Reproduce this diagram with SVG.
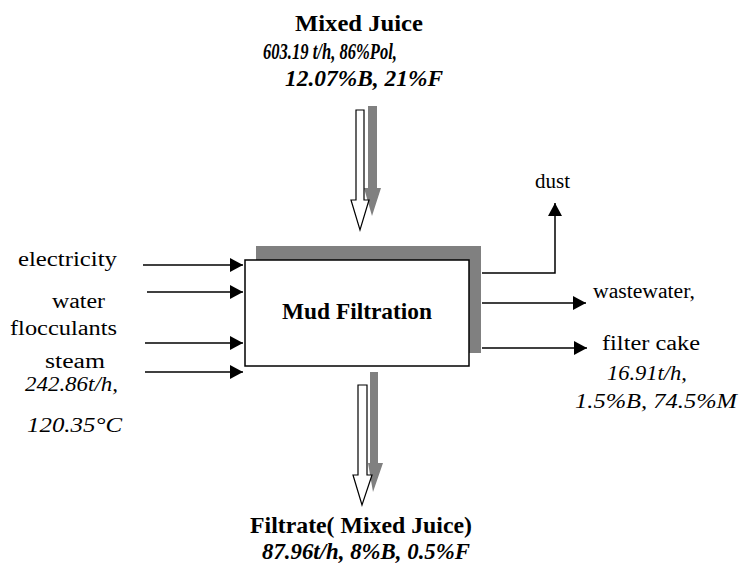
<svg xmlns="http://www.w3.org/2000/svg" width="740" height="568" viewBox="0 0 740 568">
<defs>
<style>
text{font-family:"Liberation Serif","Times New Roman",serif;fill:#000}
.r{font-size:20px}
.i{font-size:20px;font-style:italic}
.b{font-size:23px;font-weight:bold}
.bi{font-size:23px;font-weight:bold;font-style:italic}
.ln{stroke:#000;stroke-width:1.5;fill:none}
.sh{fill:#808080}
.ha{fill:#fff;stroke:#000;stroke-width:1.2}
</style>
<marker id="ah" markerUnits="userSpaceOnUse" markerWidth="14" markerHeight="14" refX="13" refY="7" orient="auto">
<path d="M0,0 L13,7 L0,14 z" fill="#000"/>
</marker>
</defs>
<g id="connectors">
<line class="ln" x1="143" y1="265" x2="243" y2="265" marker-end="url(#ah)"/>
<line class="ln" x1="147" y1="292" x2="243" y2="292" marker-end="url(#ah)"/>
<line class="ln" x1="145" y1="343" x2="243" y2="343" marker-end="url(#ah)"/>
<line class="ln" x1="145" y1="372" x2="243" y2="372" marker-end="url(#ah)"/>
<polyline class="ln" points="482,273 555,273 555,203" marker-end="url(#ah)"/>
<line class="ln" x1="482" y1="303" x2="586" y2="303" marker-end="url(#ah)"/>
<line class="ln" x1="482" y1="348" x2="587" y2="348" marker-end="url(#ah)"/>
<g id="in-arrow">
<path class="sh" d="M368,106 H377 V188 H381 L372,216 L364,188 H368 Z"/>
<path class="ha" d="M356,110 H364 V200 H369 L360,230 L351,200 H356 Z"/>
</g>
<g id="out-arrow">
<path class="sh" d="M370,372 H378 V463 H383 L373,492 L368,463 H370 Z"/>
<path class="ha" d="M358,385 H367 V475 H372 L362,505 L353,475 H358 Z"/>
</g>
</g>
<g id="mud-filtration">
<rect class="sh" x="256" y="246" width="225" height="107"/>
<rect x="245" y="260" width="224" height="106" fill="#fff" stroke="#000" stroke-width="1.5"/>
<text class="b" x="282" y="319" textLength="150" lengthAdjust="spacingAndGlyphs">Mud Filtration</text>
</g>
<g id="mixed-juice">
<text class="b" x="295" y="31" textLength="128" lengthAdjust="spacingAndGlyphs">Mixed Juice</text>
<text class="bi" x="263" y="59" textLength="134" lengthAdjust="spacingAndGlyphs">603.19 t/h, 86%Pol,</text>
<text class="bi" x="285" y="86" textLength="158" lengthAdjust="spacingAndGlyphs">12.07%B,  21%F</text>
</g>
<g id="inputs">
<text class="r" x="18" y="266" textLength="99" lengthAdjust="spacingAndGlyphs">electricity</text>
<text class="r" x="52" y="308" textLength="53" lengthAdjust="spacingAndGlyphs">water</text>
<text class="r" x="10" y="335" textLength="107" lengthAdjust="spacingAndGlyphs">flocculants</text>
<text class="r" x="45" y="368" textLength="60" lengthAdjust="spacingAndGlyphs">steam</text>
<text class="i" x="25" y="391" textLength="93" lengthAdjust="spacingAndGlyphs">242.86t/h,</text>
<text class="i" x="27" y="432" textLength="95" lengthAdjust="spacingAndGlyphs">120.35°C</text>
</g>
<g id="dust">
<text class="r" x="535" y="188" textLength="35" lengthAdjust="spacingAndGlyphs">dust</text>
</g>
<g id="wastewater">
<text class="r" x="593" y="298" textLength="102" lengthAdjust="spacingAndGlyphs">wastewater,</text>
</g>
<g id="filter-cake">
<text class="r" x="602" y="350" textLength="98" lengthAdjust="spacingAndGlyphs">filter cake</text>
<text class="i" x="607" y="380" textLength="80" lengthAdjust="spacingAndGlyphs">16.91t/h,</text>
<text class="i" x="575" y="408" textLength="162" lengthAdjust="spacingAndGlyphs">1.5%B,  74.5%M</text>
</g>
<g id="filtrate">
<text class="b" x="250" y="533" textLength="222" lengthAdjust="spacingAndGlyphs">Filtrate(  Mixed Juice)</text>
<text class="bi" x="262" y="559" textLength="208" lengthAdjust="spacingAndGlyphs">87.96t/h, 8%B, 0.5%F</text>
</g>
</svg>
